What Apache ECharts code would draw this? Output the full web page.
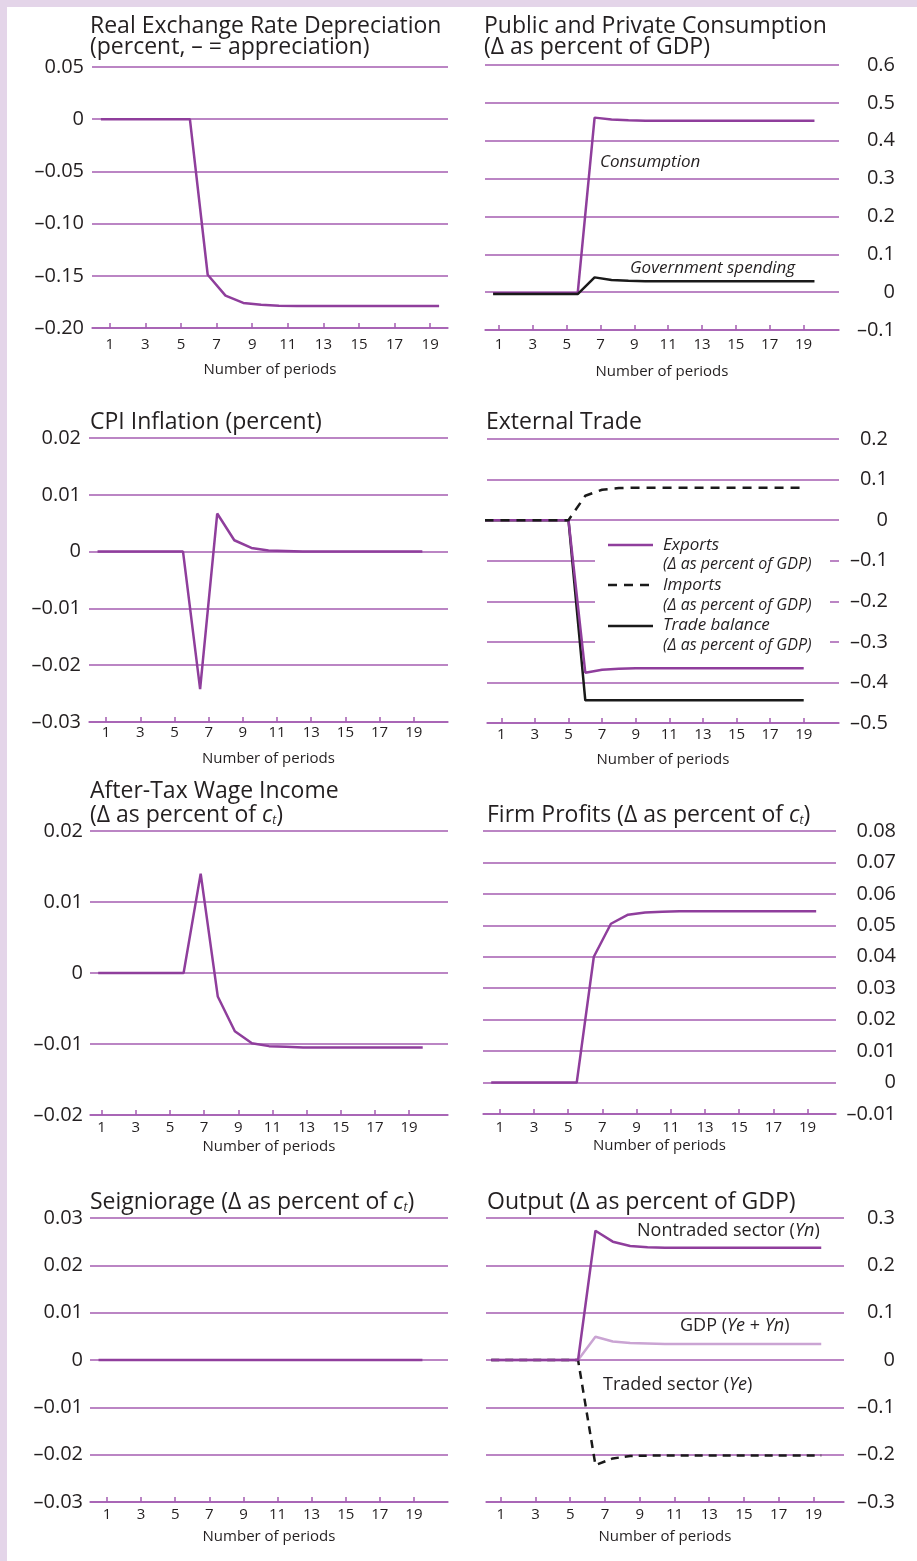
<!DOCTYPE html>
<html>
<head>
<meta charset="utf-8">
<script src="https://cdn.jsdelivr.net/npm/echarts@6/dist/echarts.min.js"></script>
<style>
    html, body { margin: 0; padding: 0; background: #fff; }
    #chart { position: absolute; left: 0; top: 0; width: 917px; height: 1561px; }
    .strip { position: absolute; background: #e4d5e9; }
</style>
</head>
<body>
<div id="chart"></div>
<div class="strip" style="left:0;top:0;width:917px;height:7px"></div>
<div class="strip" style="left:0;top:0;width:7px;height:1561px"></div>
<script>
// periods 1..20 of the simulation
const periods = [1, 2, 3, 4, 5, 6, 7, 8, 9, 10, 11, 12, 13, 14, 15, 16, 17, 18, 19, 20];
const tickPeriods = [1, 3, 5, 7, 9, 11, 13, 15, 17, 19];

const realExchange = [0, 0, 0, 0, 0, 0, -0.149, -0.169, -0.176, -0.1777, -0.1786, -0.179, -0.179, -0.179, -0.179, -0.179, -0.179, -0.179, -0.179, -0.179];
const consumption = [-0.003, -0.003, -0.003, -0.003, -0.003, -0.003, 0.461, 0.456, 0.454, 0.453, 0.453, 0.453, 0.453, 0.453, 0.453, 0.453, 0.453, 0.453, 0.453, 0.453];
const govSpending = [-0.005, -0.005, -0.005, -0.005, -0.005, -0.005, 0.039, 0.032, 0.030, 0.029, 0.029, 0.029, 0.029, 0.029, 0.029, 0.029, 0.029, 0.029, 0.029, 0.029];
const cpiInflation = [0, 0, 0, 0, 0, 0, -0.0242, 0.0067, 0.002, 0.00065, 0.0002, 0.0001, 0, 0, 0, 0, 0, 0, 0, 0];
const exportsGdp = [0, 0, 0, 0, 0, 0, -0.376, -0.369, -0.366, -0.365, -0.365, -0.365, -0.365, -0.365, -0.365, -0.365, -0.365, -0.365, -0.365, -0.365];
const importsGdp = [0, 0, 0, 0, 0, 0, 0.06, 0.075, 0.079, 0.08, 0.08, 0.08, 0.08, 0.08, 0.08, 0.08, 0.08, 0.08, 0.08, 0.08];
const tradeBalance = [0, 0, 0, 0, 0, 0, -0.444, -0.444, -0.444, -0.444, -0.444, -0.444, -0.444, -0.444, -0.444, -0.444, -0.444, -0.444, -0.444, -0.444];
const wageIncome = [0, 0, 0, 0, 0, 0, 0.014, -0.0033, -0.0082, -0.0099, -0.0103, -0.0104, -0.0105, -0.0105, -0.0105, -0.0105, -0.0105, -0.0105, -0.0105, -0.0105];
const firmProfits = [0, 0, 0, 0, 0, 0, 0.040, 0.0505, 0.0534, 0.0541, 0.0543, 0.0545, 0.0545, 0.0545, 0.0545, 0.0545, 0.0545, 0.0545, 0.0545, 0.0545];
const seigniorage = [0, 0, 0, 0, 0, 0, 0, 0, 0, 0, 0, 0, 0, 0, 0, 0, 0, 0, 0, 0];
const nontradedOutput = [0, 0, 0, 0, 0, 0, 0.273, 0.250, 0.241, 0.238, 0.237, 0.237, 0.237, 0.237, 0.237, 0.237, 0.237, 0.237, 0.237, 0.237];
const gdpOutput = [0, 0, 0, 0, 0, 0, 0.049, 0.039, 0.036, 0.035, 0.034, 0.034, 0.034, 0.034, 0.034, 0.034, 0.034, 0.034, 0.034, 0.034];
const tradedOutput = [0, 0, 0, 0, 0, 0, -0.222, -0.208, -0.203, -0.202, -0.202, -0.202, -0.202, -0.202, -0.202, -0.202, -0.202, -0.202, -0.202, -0.202];

const gridColor = '#a45cb1';
const linePurple = '#8f3e9c';
const lightPurple = '#caa4d3';
const ink = '#231f20';
const font = 'Open Sans';

const panels = [
    { // Real exchange rate
        grid: { left: 92, top: 67, width: 356, height: 261 },
        xMin: 0, xMax: 20, shift: 0.5,
        yMin: -0.2, yMax: 0.05, yStep: 0.05, dec: 2, side: 'left', yMargin: 8,
        xLabelMargin: 9, nameGap: 34,
        lines: [{ values: realExchange, color: linePurple }]
    },
    { // Public and private consumption
        grid: { left: 485, top: 65, width: 354, height: 265 },
        xMin: 0.17, xMax: 21.1, shift: 0.35,
        yMin: -0.1, yMax: 0.6, yStep: 0.1, dec: 1, side: 'right', yMargin: 56,
        xLabelMargin: 7, nameGap: 34,
        lines: [
            { values: consumption, color: linePurple },
            { values: govSpending, color: '#1a1a1a' }
        ]
    },
    { // CPI inflation
        grid: { left: 89, top: 438, width: 359, height: 284 },
        xMin: 0, xMax: 21, shift: 0.5,
        yMin: -0.03, yMax: 0.02, yStep: 0.01, dec: 2, side: 'left', yMargin: 8,
        xLabelMargin: 3, nameGap: 29,
        lines: [{ values: cpiInflation, color: linePurple }]
    },
    { // External trade
        grid: { left: 487, top: 439, width: 352, height: 284 },
        xMin: 0.15, xMax: 21.1, shift: 1,
        yMin: -0.5, yMax: 0.2, yStep: 0.1, dec: 1, side: 'right', yMargin: 49,
        xLabelMargin: 4, nameGap: 29,
        lines: [
            { values: tradeBalance, color: '#1a1a1a' },
            { values: exportsGdp, color: linePurple },
            { values: importsGdp, color: '#1a1a1a', dashed: [9, 7] }
        ]
    },
    { // After-tax wage income
        grid: { left: 90, top: 831, width: 358, height: 284 },
        xMin: 0.32, xMax: 21.28, shift: 0.2,
        yMin: -0.02, yMax: 0.02, yStep: 0.01, dec: 2, side: 'left', yMargin: 7,
        xLabelMargin: 5, nameGap: 24,
        lines: [{ values: wageIncome, color: linePurple }]
    },
    { // Firm profits
        grid: { left: 483, top: 831, width: 353, height: 283 },
        xMin: 0.02, xMax: 20.66, shift: 0.5,
        yMin: -0.01, yMax: 0.08, yStep: 0.01, dec: 2, side: 'right', yMargin: 60,
        xLabelMargin: 6, nameGap: 24,
        lines: [{ values: firmProfits, color: linePurple }]
    },
    { // Seigniorage
        grid: { left: 90, top: 1218, width: 358, height: 284 },
        xMin: 0, xMax: 21, shift: 0.5,
        yMin: -0.03, yMax: 0.03, yStep: 0.01, dec: 2, side: 'left', yMargin: 7,
        xLabelMargin: 5, nameGap: 27,
        lines: [{ values: seigniorage, color: linePurple }]
    },
    { // Output
        grid: { left: 486, top: 1218, width: 358, height: 284 },
        xMin: 0.15, xMax: 20.76, shift: 0.55,
        yMin: -0.3, yMax: 0.3, yStep: 0.1, dec: 1, side: 'right', yMargin: 51,
        xLabelMargin: 5, nameGap: 27,
        lines: [
            { values: gdpOutput, color: lightPurple },
            { values: tradedOutput, color: '#1a1a1a', dashed: [8, 6] },
            { values: nontradedOutput, color: linePurple }
        ]
    }
];

function fmt(dec) {
    return function (v) {
        if (Math.abs(v) < 1e-9) return '0';
        return (v < 0 ? '–' : '') + Math.abs(v).toFixed(dec);
    };
}

const grids = [], xAxes = [], yAxes = [], series = [];
panels.forEach((p, i) => {
    grids.push(p.grid);
    xAxes.push({
        gridIndex: i,
        type: 'value',
        min: p.xMin,
        max: p.xMax,
        name: 'Number of periods',
        nameLocation: 'middle',
        nameGap: p.nameGap,
        nameTextStyle: { fontFamily: font, fontSize: 15, color: ink },
        axisLine: { show: true, onZero: false, lineStyle: { color: gridColor, width: 1.5 } },
        axisTick: { show: true, inside: true, length: 5, customValues: tickPeriods, lineStyle: { color: gridColor, width: 1.5 } },
        axisLabel: { customValues: tickPeriods, margin: p.xLabelMargin, fontFamily: font, fontSize: 15, color: ink },
        splitLine: { show: false }
    });
    yAxes.push({
        gridIndex: i,
        type: 'value',
        position: p.side,
        min: p.yMin,
        max: p.yMax,
        interval: p.yStep,
        axisLine: { show: false },
        axisTick: { show: false },
        axisLabel: {
            formatter: fmt(p.dec),
            align: 'right',
            margin: p.yMargin,
            fontFamily: font,
            fontSize: 20,
            color: ink
        },
        splitLine: { show: true, lineStyle: { color: gridColor, width: 1.5 } }
    });
    p.lines.forEach(l => {
        series.push({
            type: 'line',
            xAxisIndex: i,
            yAxisIndex: i,
            symbol: 'none',
            silent: true,
            data: periods.map((t, k) => [t - p.shift, l.values[k]]),
            lineStyle: { color: l.color, width: 2.5, type: l.dashed || 'solid' }
        });
    });
});

const titleRich = {
    c: { fontFamily: font, fontSize: 23, fontStyle: 'italic', fill: ink },
    t: { fontFamily: font, fontSize: 12, fontStyle: 'italic', fill: ink, padding: [12, 0, 0, 0] }
};

function title(x, y, text) {
    return {
        type: 'text', x: x, y: y, z: 20,
        style: {
            text: text, fill: ink, fontFamily: font, fontSize: 23,
            verticalAlign: 'middle', align: 'left', rich: titleRich
        }
    };
}

function note(x, y, text, italic, size) {
    return {
        type: 'text', x: x, y: y, z: 20,
        style: {
            text: text, fill: ink, fontFamily: font, fontSize: size || 17,
            fontStyle: italic ? 'italic' : 'normal',
            verticalAlign: 'middle', align: 'left',
            rich: { i: { fontFamily: font, fontSize: size || 17, fontStyle: 'italic', fill: ink } }
        }
    };
}

function legendLine(y, color, dash) {
    return {
        type: 'line', z: 21,
        shape: { x1: 608, y1: y, x2: 653, y2: y },
        style: { stroke: color, lineWidth: 2.5, lineDash: dash || null }
    };
}

const graphics = [
    title(90, 26, 'Real Exchange Rate Depreciation'),
    title(90, 47, '(percent, – = appreciation)'),
    title(484, 26, 'Public and Private Consumption'),
    title(484, 47, '(Δ as percent of GDP)'),
    title(90, 422, 'CPI Inflation (percent)'),
    title(486, 422, 'External Trade'),
    title(90, 791, 'After-Tax Wage Income'),
    title(90, 815, '(Δ as percent of {c|c}{t|t})'),
    title(487, 815, 'Firm Profits (Δ as percent of {c|c}{t|t})'),
    title(90, 1202, 'Seigniorage (Δ as percent of {c|c}{t|t})'),
    title(487, 1202, 'Output (Δ as percent of GDP)'),

    note(600, 162, 'Consumption', true),
    note(630, 268, 'Government spending', true),
    note(637, 1231, 'Nontraded sector ({i|Yn})', false, 18),
    note(680, 1326, 'GDP ({i|Ye} + {i|Yn})', false, 18),
    note(603, 1385, 'Traded sector ({i|Ye})', false, 18),

    // legend box of the external trade panel
    { type: 'rect', z: 19, shape: { x: 595, y: 532, width: 235, height: 122 }, style: { fill: '#fff' } },
    legendLine(545, linePurple),
    legendLine(585, '#1a1a1a', [9, 7]),
    legendLine(626, '#1a1a1a'),
    note(663, 545, 'Exports', true),
    note(663, 564, '(Δ as percent of GDP)', true, 16),
    note(663, 585, 'Imports', true),
    note(663, 605, '(Δ as percent of GDP)', true, 16),
    note(663, 625, 'Trade balance', true),
    note(663, 645, '(Δ as percent of GDP)', true, 16)
];

const chart = echarts.init(document.getElementById('chart'), null, { renderer: 'canvas' });
chart.setOption({
    backgroundColor: '#fff',
    animation: false,
    grid: grids,
    xAxis: xAxes,
    yAxis: yAxes,
    series: series,
    graphic: graphics
});
</script>
</body>
</html>
